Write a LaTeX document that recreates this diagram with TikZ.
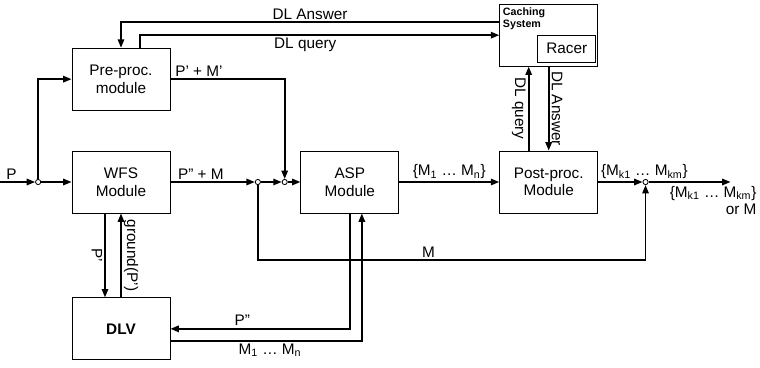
\documentclass[tikz,border=0pt]{standalone}
\usepackage{fontspec}
\setmainfont{Liberation Sans}
\usetikzlibrary{arrows.meta,positioning,calc}

\begin{document}
\begin{tikzpicture}[
  x=1mm, y=1mm,
  font=\fontsize{10.9}{12.5}\selectfont,
  box/.style={draw, line width=0.6pt, minimum width=24.5mm, minimum height=15.5mm, inner sep=0pt, align=center},
  arrow/.style={-{Triangle[length=2.1mm,width=1.6mm]}, line width=1.2pt},
  junc/.style={circle, draw, fill=white, line width=0.6pt, minimum size=1.3mm, inner sep=0pt},
  lbl/.style={inner sep=1.5pt},
]
  \useasboundingbox (0,0) rectangle (190,-91.75);
  \node[box] (wfs) at (30.25,-45.5) {WFS\\Module};
  \node[box, above=10mm of wfs] (pre) {Pre-proc.\\module};
  \node[box, below=21mm of wfs] (dlv) {\bfseries DLV};
  \node[box, right=32.5mm of wfs] (asp) {ASP\\Module};
  \node[box, right=25mm of asp] (post) {Post-proc.\\Module};
  \node[box, above=21mm of post] (cache) {};
  \node[anchor=north west, font=\fontsize{7.6}{8.6}\selectfont\bfseries, align=left, inner sep=1pt] (cachetxt) at ([shift={(0.5mm,-0.5mm)}]cache.north west) {Caching\\System};
  \node[box, minimum width=14.5mm, minimum height=6.75mm, anchor=south east] (racer) at ([shift={(-0.5mm,1mm)}]cache.south east) {Racer};
  % junctions
  \node[junc, left=7.6mm of wfs] (jin) {};
  \node[junc, right=21.1mm of wfs] (jm) {};
  \node[junc, right=5.2mm of jm] (jpre) {};
  \node[junc, right=11.1mm of post] (jout) {};
  \coordinate[left=9.1mm of jin] (in);
  \coordinate[right=20.5mm of jout] (out);
  \coordinate (mloop) at ($(jm)+(0,-19.5)$);
  % main flow
  \draw[arrow] (in) -- (jin) node[pos=0.35, above, lbl] {P};
  \draw[arrow] (jin) -- (wfs);
  \draw[arrow] (jin) |- (pre);
  \draw[arrow] (pre) -| (jpre) node[pos=0.125, above, lbl] {P' + M'};
  \draw[arrow] (wfs) -- (jm) node[pos=0.36, above, lbl] {P'' + M};
  \draw[arrow] (jm) -- (jpre);
  \draw[arrow] (jpre) -- (asp);
  \draw[arrow] (asp) -- (post) node[midway, above, lbl] {\{M\textsubscript{1} \ldots{} M\textsubscript{n}\}};
  \draw[arrow] (post) -- (jout) node[pos=0, anchor=south west, lbl] {\{M\textsubscript{k1} \ldots{} M\textsubscript{km}\}};
  \draw[arrow] (jout) -- (out);
  \node[anchor=north east, align=right, inner sep=1pt] (outlbl) at ([shift={(6.9mm,-0.6mm)}]out) {\{M\textsubscript{k1} \ldots{} M\textsubscript{km}\}\\or M};
  \draw[arrow] (jm) -- (mloop) -| (jout) node[pos=0.22, above, lbl] {M};
  % DL queries
  \draw[arrow] ([yshift=3.25mm]cache.west) -| (pre.north) node[pos=0.25, above, lbl] {DL Answer};
  \draw[arrow] ([xshift=4.75mm]pre.north) |- (cache) node[pos=0.73, below, lbl] {DL query};
  \draw[arrow] ([xshift=-5mm]post.north) -- ([xshift=-5mm]cache.south) node[midway, anchor=north, rotate=-90, lbl] {DL query};
  \draw[arrow] (cache.south) -- (post.north) node[midway, anchor=south, rotate=-90, lbl] {DL Answer};
  % DLV
  \draw[arrow] ([xshift=-4mm]wfs.south) -- ([xshift=-4mm]dlv.north) node[midway, anchor=north, rotate=-90, lbl] {P'};
  \draw[arrow] (dlv.north) -- (wfs.south) node[midway, anchor=south, rotate=-90, lbl] {ground(P')};
  \draw[arrow] (asp.south) |- (dlv) node[pos=0.8, above, lbl] {P''};
  \draw[arrow] ([yshift=-3mm]dlv.east) -| ([xshift=3mm]asp.south) node[pos=0.26, below, lbl] {M\textsubscript{1} \ldots{} M\textsubscript{n}};
\end{tikzpicture}
\end{document}
